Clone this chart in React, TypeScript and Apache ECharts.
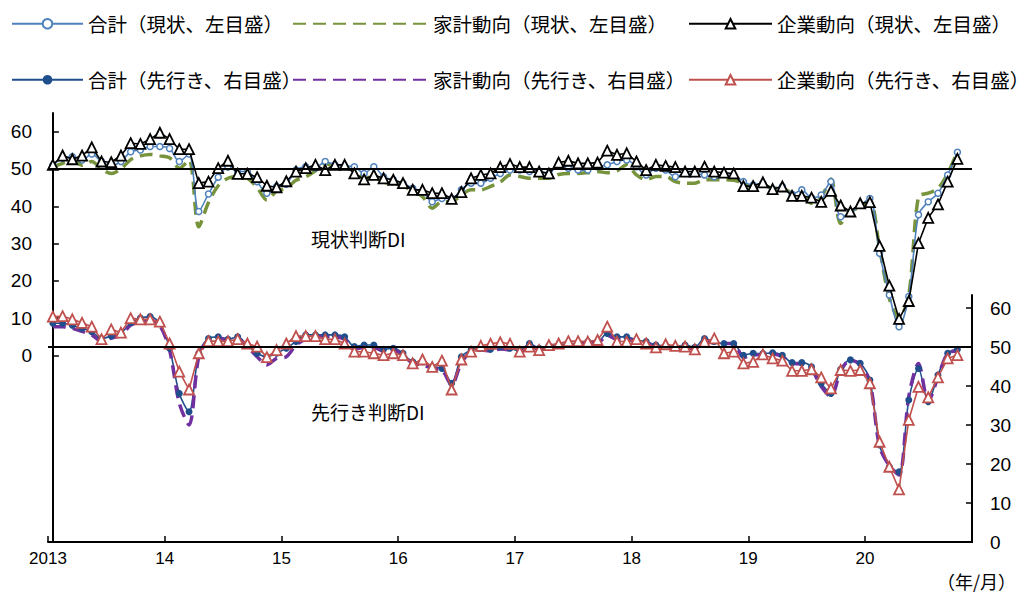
import React, { useEffect, useRef } from 'react';
import * as echarts from 'echarts';

// Year tick labels (one per January boundary)
const yearLabels = ['2013', '14', '15', '16', '17', '18', '19', '20'];
const monthCount = 95; // 2013/1 .. 2020/11 slots on the axis

const seriesNames = [
  '合計（現状、左目盛）',
  '家計動向（現状、左目盛）',
  '企業動向（現状、左目盛）',
  '合計（先行き、右目盛）',
  '家計動向（先行き、右目盛）',
  '企業動向（先行き、右目盛）',
];

// 現状判断DI (left axis)
const currentTotal = [
  51.0, 52.9, 53.3, 52.4, 54.0, 52.0, 50.9, 52.0, 54.6, 55.1,
  56.0, 56.0, 55.5, 52.0, 54.0, 38.6, 43.3, 47.8, 50.5, 49.3,
  49.3, 46.6, 43.5, 45.3, 45.9, 49.7, 50.6, 50.3, 52.0, 51.1,
  50.8, 50.6, 48.8, 50.6, 47.9, 47.1, 46.2, 44.8, 43.9, 41.2,
  42.1, 42.1, 44.4, 46.2, 46.2, 47.5, 48.8, 49.7, 49.7, 49.3,
  49.3, 48.8, 51.1, 50.2, 49.7, 49.7, 50.6, 51.1, 52.0, 52.4,
  50.6, 48.4, 50.2, 49.7, 47.9, 48.8, 48.8, 48.4, 47.9, 48.8,
  48.4, 46.6, 45.7, 46.2, 44.6, 45.3, 43.2, 44.4, 42.3, 43.0,
  46.6, 37.2, 38.1, 40.3, 42.1, 27.4, 16.2, 7.7, 15.8, 37.7,
  41.2, 43.5, 48.4, 54.5,
];
const currentHousehold = [
  50.5, 51.5, 52.5, 51.0, 52.0, 50.0, 48.8, 50.0, 52.5, 53.5,
  53.9, 53.5, 53.0, 50.2, 52.4, 34.5, 41.0, 45.5, 47.5, 48.0,
  47.5, 45.0, 41.7, 44.0, 44.8, 47.0, 47.9, 49.5, 51.5, 50.5,
  50.2, 49.5, 47.5, 47.9, 46.5, 46.0, 45.5, 44.0, 42.6, 39.5,
  41.2, 41.2, 43.0, 44.4, 44.4, 45.3, 46.5, 48.4, 48.0, 47.5,
  47.5, 47.5, 48.5, 48.8, 48.8, 49.0, 49.3, 49.0, 49.5, 51.1,
  48.4, 47.1, 48.0, 48.0, 46.6, 46.2, 46.2, 47.1, 47.1, 47.1,
  47.0, 46.2, 45.0, 45.7, 44.8, 44.8, 43.5, 43.0, 40.8, 42.5,
  47.3, 35.4, 38.6, 39.8, 41.6, 28.7, 15.3, 10.0, 16.2, 42.6,
  43.5, 44.8, 48.8, 54.6,
];
const currentBusiness = [
  51.1, 53.6, 52.6, 53.6, 55.8, 52.0, 51.8, 53.6, 56.9, 56.7,
  58.0, 59.7, 58.0, 55.3, 55.3, 46.2, 46.6, 50.2, 52.2, 48.7,
  48.7, 47.8, 45.5, 45.1, 46.7, 49.3, 50.2, 51.1, 49.7, 51.1,
  51.1, 48.8, 47.2, 48.4, 47.5, 47.1, 46.2, 44.4, 44.4, 43.5,
  43.5, 42.0, 43.8, 47.5, 48.4, 48.8, 50.5, 51.3, 50.5, 50.5,
  49.3, 48.8, 51.7, 52.2, 51.5, 51.5, 51.7, 54.9, 53.8, 54.2,
  52.0, 49.7, 51.1, 50.8, 50.5, 49.3, 49.3, 50.6, 49.3, 49.0,
  48.8, 45.4, 45.4, 46.4, 44.6, 45.3, 42.8, 42.8, 42.3, 41.2,
  44.1, 40.2, 38.6, 40.8, 41.1, 29.4, 18.7, 9.8, 14.6, 30.1,
  36.9, 40.5, 46.6, 52.7,
];

// 先行き判断DI (right axis)
const outlookTotal = [
  56.1, 56.1, 55.6, 54.8, 53.9, 52.2, 52.8, 53.5, 56.2, 57.4,
  57.8, 56.1, 49.7, 38.1, 33.4, 48.4, 52.2, 52.6, 52.0, 52.6,
  50.5, 48.4, 47.5, 48.4, 49.7, 51.4, 53.1, 53.1, 53.1, 53.1,
  52.6, 50.1, 50.5, 50.5, 49.4, 49.7, 48.4, 46.2, 46.2, 44.9,
  44.5, 40.7, 47.5, 49.2, 49.7, 49.4, 50.1, 49.7, 49.0, 50.9,
  49.7, 50.3, 50.5, 50.9, 50.9, 51.4, 51.4, 53.5, 52.6, 52.6,
  51.8, 51.4, 50.5, 50.3, 50.1, 50.5, 49.9, 52.2, 51.4, 50.9,
  50.9, 47.9, 48.4, 48.3, 48.5, 47.9, 46.0, 46.0, 44.9, 40.7,
  38.1, 44.3, 46.7, 45.8, 41.5, 24.9, 19.3, 18.0, 36.4, 44.5,
  36.0, 42.8, 48.4, 49.4,
];
const outlookHousehold = [
  55.2, 55.2, 54.8, 54.0, 53.1, 51.5, 52.3, 53.0, 55.6, 56.5,
  56.9, 55.5, 49.2, 35.6, 30.0, 47.5, 51.8, 52.3, 51.8, 52.0,
  50.0, 47.5, 45.4, 47.1, 47.5, 50.5, 52.0, 52.6, 52.6, 52.6,
  52.0, 49.4, 49.9, 49.9, 48.9, 49.2, 47.9, 45.8, 45.5, 44.5,
  44.1, 40.3, 46.0, 48.8, 49.2, 49.0, 49.5, 49.2, 48.5, 50.5,
  49.3, 49.9, 50.0, 50.5, 50.5, 51.0, 51.0, 53.0, 52.0, 52.0,
  51.3, 51.0, 50.0, 49.9, 49.6, 50.0, 49.5, 51.7, 51.0, 50.9,
  50.9, 47.3, 48.0, 48.0, 48.2, 47.5, 45.8, 45.6, 44.3, 39.9,
  37.3, 43.8, 46.7, 45.4, 41.1, 24.4, 19.6, 17.2, 37.3, 45.8,
  36.0, 42.3, 48.4, 49.0,
];
const outlookBusiness = [
  57.8, 57.9, 57.1, 56.2, 55.2, 52.0, 54.5, 53.7, 57.4, 57.1,
  57.1, 56.5, 50.9, 43.7, 39.1, 48.4, 51.5, 51.5, 51.5, 52.0,
  50.9, 50.1, 47.4, 49.2, 50.9, 52.8, 52.8, 52.8, 52.0, 52.0,
  50.9, 48.8, 48.8, 48.4, 47.9, 48.4, 47.9, 45.8, 46.8, 44.9,
  46.5, 39.1, 46.8, 48.8, 50.3, 50.8, 51.2, 50.8, 48.8, 50.1,
  49.2, 50.5, 50.9, 51.5, 51.5, 51.4, 51.8, 55.2, 51.4, 51.4,
  52.0, 50.9, 49.9, 50.7, 50.3, 50.1, 49.4, 51.4, 52.2, 48.4,
  48.8, 45.8, 46.2, 48.1, 47.1, 46.5, 43.9, 43.9, 44.3, 42.2,
  39.4, 44.1, 43.9, 44.1, 40.7, 25.7, 19.3, 13.5, 31.3, 39.8,
  37.1, 42.2, 47.1, 47.9,
];

const leftTicks = [0, 10, 20, 30, 40, 50, 60];
const rightTicks = [0, 10, 20, 30, 40, 50, 60];
const referenceLevel = 50;

const NUM_FONT = 'Liberation Sans, Arial, sans-serif';
const JP_FONT = '"Noto Sans CJK JP", "Noto Sans", sans-serif';

const COLORS = {
  cTotal: '#4F81BD',
  cHouse: '#77933C',
  cBiz: '#000000',
  fTotal: '#1F4E8C',
  fHouse: '#7030A0',
  fBiz: '#C0504D',
};

const toPairs = (arr: number[]) => arr.map((v, i) => [i, v]);
const yearBoundaries = yearLabels.map((_, k) => k * 12 - 0.5);

export default function App() {
  const ref = useRef<HTMLDivElement>(null);

  useEffect(() => {
    if (!ref.current) return;
    const chart = echarts.init(ref.current, null, { renderer: 'svg' });

    const baseLegend = (name: string, left: number, top: number, w: number, hideSymbol = false) => ({
      data: [name],
      left,
      top,
      itemWidth: w,
      itemHeight: 12,
      selectedMode: false,
      padding: 0,
      ...(hideSymbol ? { itemStyle: { opacity: 0 } } : {}),
      textStyle: { fontSize: 19.5, fontFamily: JP_FONT, color: '#000' },
    });

    const option: any = {
      animation: false,
      backgroundColor: '#fff',
      grid: { left: 48, right: 56, top: 113, bottom: 57, containLabel: false },
      legend: [
        baseLegend(seriesNames[0], 11, 14, 71),
        baseLegend(seriesNames[1], 292, 14, 135, true),
        baseLegend(seriesNames[2], 688, 14, 83),
        baseLegend(seriesNames[3], 11, 70, 71),
        baseLegend(seriesNames[4], 292, 70, 135, true),
        baseLegend(seriesNames[5], 688, 70, 83),
      ],
      xAxis: {
        type: 'value',
        min: -0.5,
        max: monthCount - 0.5,
        splitLine: { show: false },
        axisLine: { show: true, onZero: false, lineStyle: { color: '#000', width: 2 } },
        axisTick: {
          show: true,
          inside: true,
          length: 6,
          customValues: yearBoundaries,
          lineStyle: { color: '#000', width: 1.5 },
        },
        axisLabel: {
          customValues: yearBoundaries,
          margin: 8,
          fontSize: 17,
          fontFamily: NUM_FONT,
          color: '#000',
          formatter: (v: number) => yearLabels[Math.round((v + 0.5) / 12)] ?? '',
        },
      },
      yAxis: [
        {
          type: 'value',
          position: 'left',
          min: -50,
          max: 65,
          splitLine: { show: false },
          axisLine: { show: true, lineStyle: { color: '#000', width: 2 } },
          axisTick: {
            show: true,
            inside: true,
            length: 6,
            customValues: leftTicks,
            lineStyle: { color: '#000', width: 1.5 },
          },
          axisLabel: {
            customValues: leftTicks,
            margin: 16,
            fontSize: 19,
            fontFamily: NUM_FONT,
            color: '#000',
          },
        },
        {
          type: 'value',
          position: 'right',
          min: 0,
          max: 110,
          splitLine: { show: false },
          axisLine: { show: false },
          axisTick: {
            show: true,
            inside: true,
            length: 6,
            customValues: rightTicks,
            lineStyle: { color: '#000', width: 1.5 },
          },
          axisLabel: {
            customValues: rightTicks,
            margin: 18,
            fontSize: 19,
            fontFamily: NUM_FONT,
            color: '#000',
          },
        },
      ],
      series: [
        {
          name: seriesNames[0],
          type: 'line',
          yAxisIndex: 0,
          data: toPairs(currentTotal),
          smooth: 0.3,
          symbol: 'circle',
          symbolSize: 6,
          color: COLORS.cTotal,
          lineStyle: { color: COLORS.cTotal, width: 1.6 },
          itemStyle: { color: '#fff', borderColor: COLORS.cTotal, borderWidth: 1.5 },
          z: 3,
        },
        {
          name: seriesNames[1],
          type: 'line',
          yAxisIndex: 0,
          data: toPairs(currentHousehold),
          smooth: 0.3,
          symbol: 'none',
          color: COLORS.cHouse,
          lineStyle: { color: COLORS.cHouse, width: 3.5, type: [13, 7] },
          z: 2,
        },
        {
          name: seriesNames[2],
          type: 'line',
          yAxisIndex: 0,
          data: toPairs(currentBusiness),
          symbol: 'triangle',
          symbolSize: 10,
          color: COLORS.cBiz,
          lineStyle: { color: COLORS.cBiz, width: 1.6 },
          itemStyle: { color: '#fff', borderColor: COLORS.cBiz, borderWidth: 1.8 },
          z: 4,
          markLine: {
            silent: true,
            symbol: 'none',
            label: { show: false },
            lineStyle: { color: '#000', width: 2, type: 'solid' },
            data: [{ yAxis: referenceLevel }],
          },
        },
        {
          name: seriesNames[3],
          type: 'line',
          yAxisIndex: 1,
          data: toPairs(outlookTotal),
          smooth: 0.3,
          symbol: 'circle',
          symbolSize: 7,
          color: COLORS.fTotal,
          lineStyle: { color: COLORS.fTotal, width: 1.6 },
          itemStyle: { color: COLORS.fTotal },
          z: 3,
        },
        {
          name: seriesNames[4],
          type: 'line',
          yAxisIndex: 1,
          data: toPairs(outlookHousehold),
          smooth: 0.3,
          symbol: 'none',
          color: COLORS.fHouse,
          lineStyle: { color: COLORS.fHouse, width: 3.5, type: [13, 7] },
          z: 3,
        },
        {
          name: seriesNames[5],
          type: 'line',
          yAxisIndex: 1,
          data: toPairs(outlookBusiness),
          symbol: 'triangle',
          symbolSize: 10,
          color: COLORS.fBiz,
          lineStyle: { color: COLORS.fBiz, width: 1.6 },
          itemStyle: { color: '#fff', borderColor: COLORS.fBiz, borderWidth: 1.8 },
          z: 4,
          markLine: {
            silent: true,
            symbol: 'none',
            label: { show: false },
            lineStyle: { color: '#000', width: 2, type: 'solid' },
            data: [{ yAxis: referenceLevel }],
          },
        },
      ],
    };

    chart.setOption(option);

    const xRight = chart.convertToPixel({ xAxisIndex: 0 }, monthCount - 0.5) as number;
    const yBottom = chart.convertToPixel({ yAxisIndex: 1 }, 0) as number;
    const yTop = chart.convertToPixel({ yAxisIndex: 1 }, 63.5) as number;

    chart.setOption({
      graphic: [
        {
          type: 'line',
          shape: { x1: xRight, y1: yBottom + 1, x2: xRight, y2: yTop },
          style: { stroke: '#000', lineWidth: 2 },
          z: 10,
        },
        {
          type: 'text',
          left: 311,
          top: 229,
          style: { text: '現状判断DI', fontSize: 19, fontFamily: JP_FONT, fill: '#000' },
        },
        {
          type: 'text',
          left: 311,
          top: 402,
          style: { text: '先行き判断DI', fontSize: 19, fontFamily: JP_FONT, fill: '#000' },
        },
        {
          type: 'text',
          right: 12,
          top: 572,
          style: { text: '（年/月）', fontSize: 18, fontFamily: JP_FONT, fill: '#000' },
        },
      ],
    });

    return () => chart.dispose();
  }, []);

  return (
    <div
      ref={ref}
      style={{ position: 'fixed', left: 0, top: 0, width: 1028, height: 599, background: '#fff' }}
    />
  );
}
